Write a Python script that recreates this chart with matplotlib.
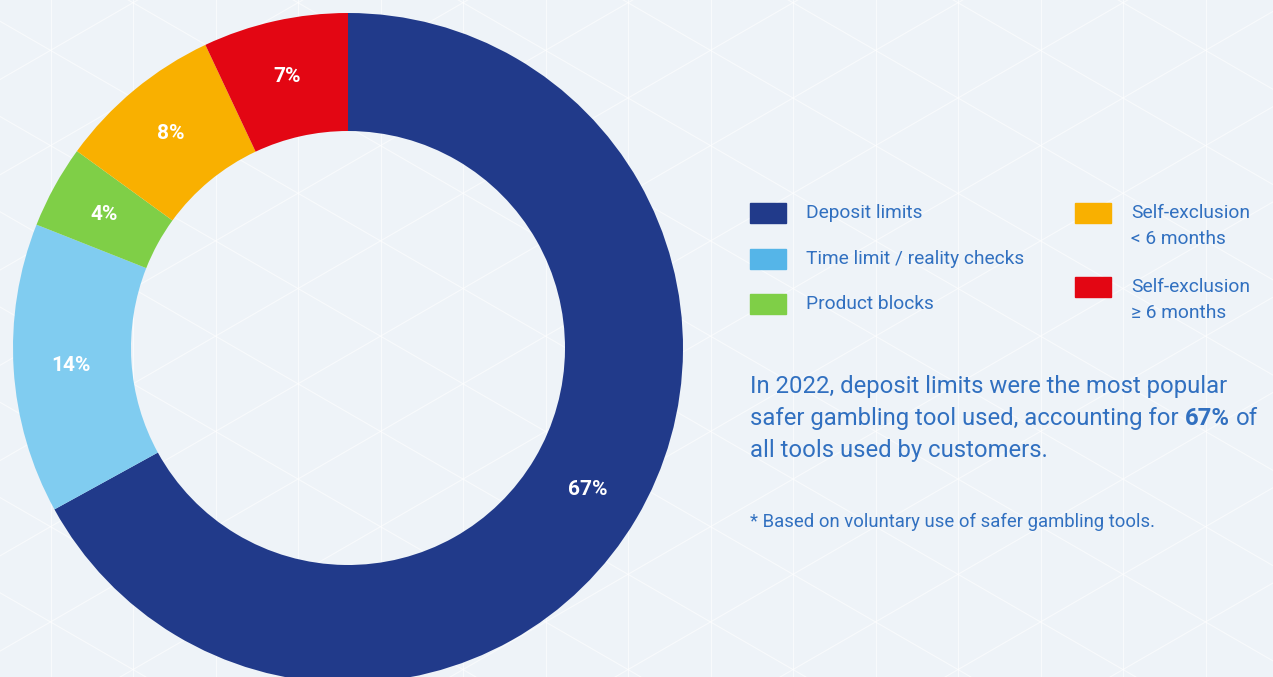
import matplotlib
matplotlib.use("Agg")
import matplotlib.pyplot as plt
from matplotlib.patches import Rectangle
import numpy as np

plt.rcParams['font.family'] = ['Roboto', 'DejaVu Sans']

# share of safer gambling tools used
tools = ["Deposit limits", "Time limit / reality checks", "Product blocks",
         "Self-exclusion\n< 6 months", "Self-exclusion\n≥ 6 months"]
shares = [67, 14, 4, 8, 7]
ring_colors = ["#213a8a", "#80ccf0", "#7fcf47", "#f9b000", "#e30613"]
swatch_colors = ["#213a8a", "#55b5e8", "#7fcf47", "#f9b000", "#e30613"]

text_blue = "#3170c0"
bg_color = "#eef3f8"

W, H = 1273, 677
fig = plt.figure(figsize=(W / 100, H / 100), dpi=100)
fig.patch.set_facecolor(bg_color)

# background axes in pixel units, with the triangle lattice
bg = fig.add_axes([0, 0, 1, 1], zorder=0)
bg.set_xlim(0, W)
bg.set_ylim(H, 0)
bg.axis('off')

step = 82.5
slope = np.tan(np.radians(30))
rise = step * slope
grid_kw = dict(color='white', lw=0.8, alpha=0.6)
for vx in np.arange(50.5, W, step):
    bg.plot([vx, vx], [0, H], **grid_kw)
xs = np.array([0, W])
for n in range(-40, 40):
    off = n * 2 * rise
    bg.plot(xs, 98 + (xs - 958) * slope + off, **grid_kw)
    bg.plot(xs, 98 - (xs - 958) * slope + off, **grid_kw)

# donut chart, data units are pixels with the centre at (348, 348)
ax = fig.add_axes([0, 0, 1, 1], zorder=1)
ax.patch.set_alpha(0)
wedges, _, pct = ax.pie(shares, colors=ring_colors, startangle=90, counterclock=False,
                        radius=335, wedgeprops=dict(width=118, linewidth=0),
                        autopct=lambda p: f"{p:.0f}%", pctdistance=278 / 335,
                        textprops=dict(color='white', fontsize=15, fontweight='bold'))
ax.set_xlim(-348, W - 348)
ax.set_ylim(-(H - 348), 348)
ax.set_aspect('equal')
ax.axis('off')

# legend drawn by hand in two columns
legend_pos = [(750, 213), (750, 259), (750, 304), (1075, 213), (1075, 287)]
for (lx, ly), name, col in zip(legend_pos, tools, swatch_colors):
    bg.add_patch(Rectangle((lx, ly - 10), 36, 20, color=col, zorder=3))
    lines = name.split("\n")
    for i, line in enumerate(lines):
        bg.text(lx + 56, ly + i * 26, line, color=text_blue, fontsize=13.8,
                va='center', ha='left', zorder=3)

# summary text with the bold figure
para = ["In 2022, deposit limits were the most popular",
        "safer gambling tool used, accounting for",
        "all tools used by customers."]
base = [393, 425, 457]
fs = 17.2
t0 = bg.text(750, base[0], para[0], color=text_blue, fontsize=fs, va='baseline', zorder=3)
t1 = bg.text(750, base[1], para[1], color=text_blue, fontsize=fs, va='baseline', zorder=3)
bg.text(750, base[2], para[2], color=text_blue, fontsize=fs, va='baseline', zorder=3)

renderer = fig.canvas.get_renderer()
inv = bg.transData.inverted()
x_end = inv.transform((t1.get_window_extent(renderer).x1, 0))[0]
t2 = bg.text(x_end + 6, base[1], "67%", color=text_blue, fontsize=fs,
             fontweight='bold', va='baseline', zorder=3)
x_end = inv.transform((t2.get_window_extent(renderer).x1, 0))[0]
bg.text(x_end + 6, base[1], "of", color=text_blue, fontsize=fs, va='baseline', zorder=3)

bg.text(750, 522, "* Based on voluntary use of safer gambling tools.", color=text_blue,
        fontsize=13.3, va='center', zorder=3)

fig.savefig("out.png", dpi=100, facecolor=bg_color)
